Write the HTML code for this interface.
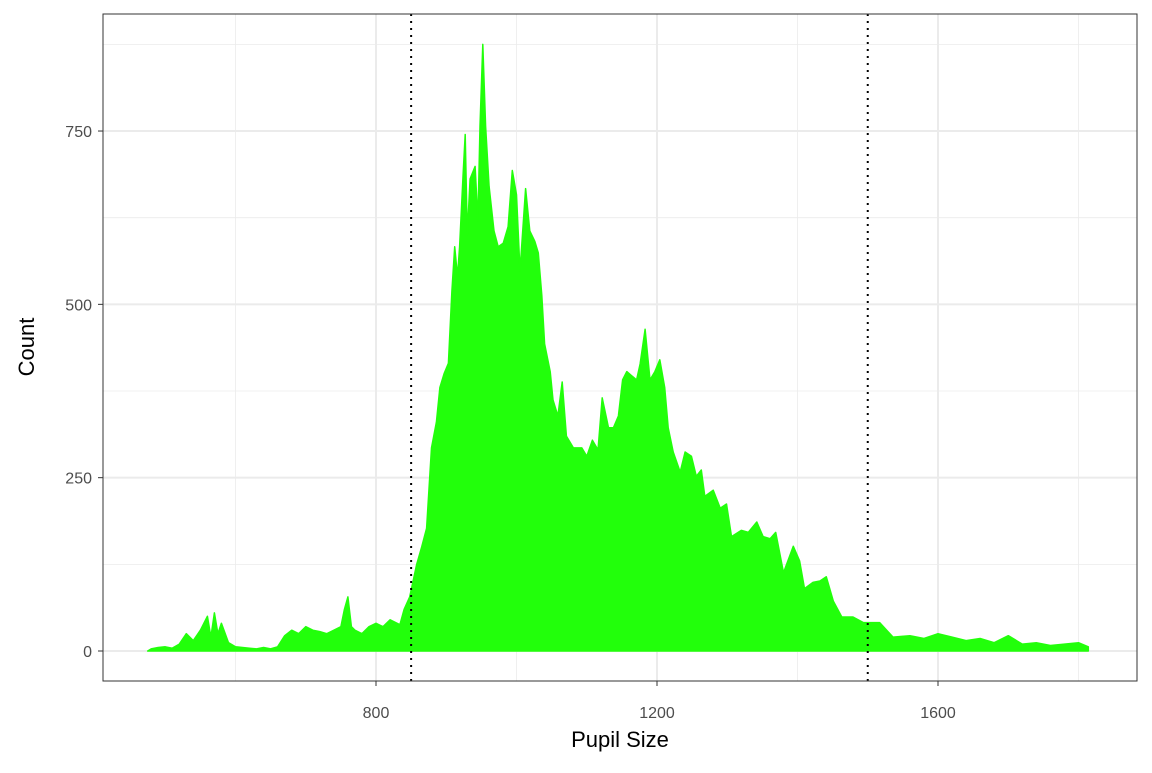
<!DOCTYPE html>
<html><head><meta charset="utf-8"><style>
body{margin:0;background:#fff}
svg text{font-family:"Liberation Sans",Arial,sans-serif}
</style></head><body>
<svg id="chart" width="1152" height="768" xmlns="http://www.w3.org/2000/svg">
<rect width="1152" height="768" fill="#fff"/>
<g id="grid"></g>
<g id="marks"></g>
<rect x="103" y="14" width="1034" height="667" fill="none" stroke="#333" stroke-width="1"/>
<g id="axes"></g>
<text x="620" y="747" font-size="22" text-anchor="middle" fill="#000">Pupil Size</text>
<text transform="translate(34,347) rotate(-90)" font-size="22" text-anchor="middle" fill="#000">Count</text>
</svg>
<script>
const pupil = [475,480,490,500,510,520,530,540,550,560,565,570,575,580,590,600,610,620,630,640,650,660,670,680,690,700,710,720,730,740,750,755,760,765,770,780,790,800,810,820,830,834,840,848,858,865,872,879,886,891,897,903,908,912,916,919,924,927,930,934,941,945,948,952,956,961,968,974,981,988,994,1000,1005,1013,1019,1026,1031,1036,1040,1048,1052,1059,1065,1071,1081,1093,1100,1108,1116,1122,1131,1138,1145,1151,1157,1164,1171,1176,1183,1190,1197,1204,1211,1216,1223,1233,1240,1249,1256,1263,1268,1280,1290,1299,1306,1320,1330,1342,1351,1361,1369,1380,1394,1403,1410,1422,1432,1441,1451,1463,1479,1494,1517,1536,1560,1580,1600,1620,1640,1660,1680,1700,1720,1740,1760,1780,1800,1814];
const counts = [0,3,5,6,4,10,25,15,30,50,20,55,25,40,12,6,5,4,3,5,3,6,22,30,25,35,30,28,25,30,35,60,78,35,30,25,35,40,35,45,40,38,60,78,125,150,177,293,330,380,400,415,519,583,540,583,687,745,600,681,699,620,757,875,757,670,606,583,588,612,693,658,548,667,606,591,574,513,443,403,362,339,388,310,293,293,281,304,290,365,322,322,339,391,403,397,391,414,464,391,403,420,380,322,287,258,287,281,252,261,223,232,206,212,165,174,171,186,165,162,171,113,151,130,90,99,101,107,72,49,49,41,41,20,22,18,25,20,15,18,12,22,10,12,8,10,12,6];
const xTicks = [800,1200,1600];
const xMinor = [600,1000,1400,1800];
const yTicks = [0,250,500,750];
const yMinor = [125,375,625,875];
const cutoffs = [850,1500];

const X = v => 376 + (v - 800) * 0.7025;
const Y = c => 651 - c * 0.6933;
const NS = "http://www.w3.org/2000/svg";
function mk(tag, attrs, parent){const e=document.createElementNS(NS,tag);for(const k in attrs)e.setAttribute(k,attrs[k]);parent.appendChild(e);return e;}
const grid=document.getElementById('grid'), marks=document.getElementById('marks'), axes=document.getElementById('axes');
xMinor.forEach(v=>{const l=mk('line',{x1:X(v),x2:X(v),y1:14,y2:681,stroke:'#ebebeb','stroke-width':0.8},grid);

});
yMinor.forEach(v=>{const l=mk('line',{x1:103,x2:1137,y1:Y(v),y2:Y(v),stroke:'#ebebeb','stroke-width':0.8},grid);

});
xTicks.forEach(v=>{const l=mk('line',{x1:X(v),x2:X(v),y1:14,y2:681,stroke:'#ebebeb','stroke-width':2},grid);


const t=mk('line',{x1:X(v),x2:X(v),y1:681,y2:686,stroke:'#333','stroke-width':1},axes);


const tx=mk('text',{x:X(v),y:718,'font-size':16,'text-anchor':'middle',fill:'#4d4d4d'},axes);tx.textContent=v;

});
yTicks.forEach(v=>{const l=mk('line',{x1:103,x2:1137,y1:Y(v),y2:Y(v),stroke:'#ebebeb','stroke-width':2},grid);


const t=mk('line',{x1:98,x2:103,y1:Y(v),y2:Y(v),stroke:'#333','stroke-width':1},axes);


const tx=mk('text',{x:92,y:Y(v)+6,'font-size':16,'text-anchor':'end',fill:'#4d4d4d'},axes);tx.textContent=v;

});
let d='M'+X(pupil[0])+','+Y(0);
pupil.forEach((p,i)=>{d+=' L'+X(p).toFixed(1)+','+Y(counts[i]).toFixed(1);});
d+=' L'+X(pupil[pupil.length-1])+','+Y(0)+' Z';
const area=mk('path',{d:d,fill:'#22ff0b',stroke:'#22ff0b','stroke-width':1.5,'stroke-linejoin':'round'},marks);


cutoffs.forEach(v=>{const l=mk('line',{x1:X(v),x2:X(v),y1:14,y2:681,stroke:'#000','stroke-width':2,'stroke-dasharray':'2,5'},marks);

});
</script>
</body></html>
